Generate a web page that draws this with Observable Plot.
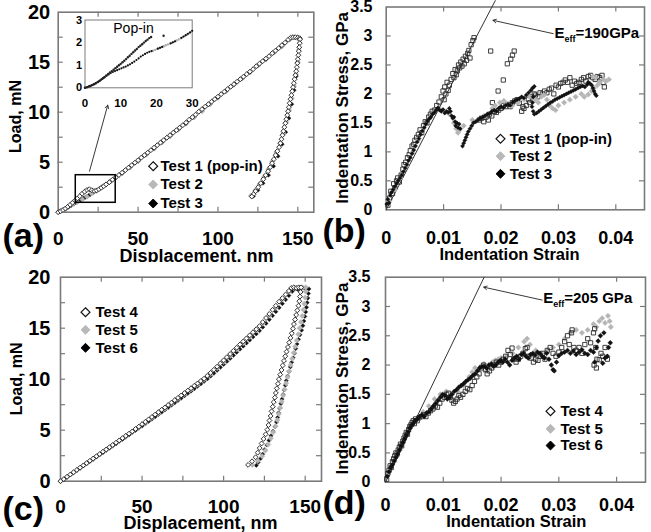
<!DOCTYPE html>
<html>
<head>
<meta charset="utf-8">
<script src="https://cdn.jsdelivr.net/npm/d3@7"></script>
<script src="https://cdn.jsdelivr.net/npm/@observablehq/plot@0.6"></script>
<style>
  html, body { margin: 0; padding: 0; background: #fff; }
  #fig { position: relative; width: 651px; height: 532px; overflow: hidden; background: #fff; }
  .panel { position: absolute; overflow: hidden; }
  .panel svg { overflow: visible; }
</style>
</head>
<body>
<div id="fig"></div>
<script>
// ---------- Load–displacement, first sample set (nm, mN) ----------
const test1LoadingA = [[0,0],[1.5,0.1],[3,0.22],[4.5,0.37],[6,0.55],[7.5,0.74],[9,0.95],[10.5,1.15],[12,1.38],[13.5,1.6],[15,1.85],[16.5,2.05],[18,2.22],[19.5,2.3],[21,2.2],[22.5,2.12],[24,2.18],[25.5,2.3],[27,2.45],[28.5,2.6],[30,2.78],[32,3.0],[34,3.25],[36,3.48],[38,3.72],[40,3.95],[42,4.2],[44,4.45],[46,4.7],[48,4.95],[50,5.2],[52,5.45],[54,5.7],[56,5.95],[58,6.2],[60,6.45],[62,6.7],[64,6.95],[66,7.2],[68,7.45],[70,7.7],[72,7.95],[74,8.2],[76,8.45],[78,8.7],[80,8.95],[82,9.25],[84,9.5],[86,9.75],[88,10.05],[90,10.3],[92,10.55],[94,10.8],[96,11.05],[98,11.3],[100,11.55],[102,11.8],[104,12.05],[106,12.3],[108,12.55],[110,12.8],[112,13.05],[114,13.3],[116,13.55],[118,13.8],[120,14.05],[122,14.3],[124,14.6],[126,14.85],[128,15.1],[130,15.35],[132,15.6],[134,15.9],[136,16.15],[138,16.4],[140,16.7],[142,16.95],[144,17.25],[145.5,17.45],[147,17.5],[148.5,17.5],[150,17.45],[151.2,17.4]];
const test1UnloadingA = [[151.4,17.3],[151.2,16.9],[150.9,16.5],[150.6,16.1],[150.3,15.7],[150,15.3],[149.7,14.9],[149.4,14.5],[149,14.1],[148.5,13.7],[148,13.3],[147.5,12.9],[147,12.5],[146.5,12.1],[146,11.7],[145.4,11.3],[144.9,10.9],[144.4,10.5],[143.9,10.1],[143.4,9.7],[142.8,9.3],[142.2,8.9],[141.6,8.5],[141,8.1],[140.4,7.7],[139.8,7.3],[139.1,6.9],[138.3,6.5],[137.2,6.1],[136.1,5.7],[135,5.3],[133.9,4.9],[132.7,4.5],[131.4,4.1],[129.9,3.7],[128.4,3.3],[126.8,2.9],[125.2,2.5],[123.5,2.1],[122.3,1.8],[121.2,1.57]];
const test2LoadingA = [[0,0],[3,0.2],[6,0.48],[9,0.78],[12,1.02],[15,1.3],[18,1.55],[21,1.85],[24,2.12],[27,2.45],[30,2.78],[33,3.12],[36,3.45],[40,3.9],[45,4.5],[50,5.1],[55,5.75],[60,6.35],[65,7.0],[70,7.6],[75,8.25],[80,8.85],[85,9.5],[90,10.15],[95,10.8],[100,11.45],[105,12.1],[110,12.75],[115,13.35],[120,14.0],[125,14.65],[130,15.3],[135,15.95],[140,16.6],[145,17.3],[148,17.5],[150,17.5]];
const test2UnloadingA = [[151,17.2],[150.6,16.2],[149.8,15],[148.8,13.8],[147.6,12.6],[146.2,11.4],[144.6,10.2],[142.8,9],[141,7.9],[138.9,6.9],[136.5,6],[134,5.1],[131.5,4.3],[128.8,3.5],[126,2.8],[123.3,2.2],[120.6,1.65]];
const test3LoadingA = [[0,0],[1,0.06],[2,0.13],[3,0.21],[4,0.3],[5,0.38],[6,0.47],[7,0.56],[8,0.66],[9,0.76],[10,0.86],[11,0.95],[12,1.04],[13,1.13],[14,1.22],[15,1.31],[16,1.4],[17,1.49],[18,1.58],[19,1.67],[20,1.76],[22,1.95],[24,2.14],[26,2.35],[28,2.57],[30,2.8],[33,3.1],[36,3.42],[40,3.88],[45,4.48],[50,5.08],[55,5.72],[60,6.33],[65,6.97],[70,7.58],[75,8.22],[80,8.83],[85,9.47],[90,10.1],[95,10.77],[100,11.42],[105,12.07],[110,12.72],[115,13.33],[120,13.98],[125,14.63],[130,15.28],[135,15.93],[140,16.58],[145,17.28],[148,17.45],[151,17.4]];
const test3UnloadingA = [[150.8,16.5],[150,15],[149,13.6],[147.7,12.2],[146.2,10.8],[144.4,9.4],[142.4,8],[140.2,6.8],[137.6,5.6],[134.8,4.6],[131.6,3.7],[128.2,2.9],[125,2.2],[122.2,1.6]];

// Magnified start of the first set (nm, mN)
const insetTest1 = [[0,0],[0.5,0.02],[1,0.05],[1.5,0.08],[2,0.12],[2.5,0.16],[3,0.2],[3.5,0.25],[4,0.3],[4.5,0.36],[5,0.42],[5.5,0.48],[6,0.55],[6.5,0.61],[7,0.68],[7.5,0.74],[8,0.8],[8.5,0.87],[9,0.93],[9.5,1.0],[10,1.06],[10.5,1.13],[11,1.2],[11.5,1.27],[12,1.35],[12.5,1.42],[13,1.5],[13.5,1.57],[14,1.65],[14.5,1.72],[15,1.8],[15.5,1.86],[16,1.93],[16.5,2.0],[17,2.07],[17.5,2.13],[18,2.2],[18.5,2.25],[22,2.3]];
const insetTest2 = [[19,1.64],[19.6,1.68],[20.2,1.72],[20.8,1.76],[21.4,1.8],[22,1.84],[22.6,1.88],[23.2,1.92],[23.8,1.96],[24.4,2.0],[25,2.04],[25.6,2.09],[26.2,2.14],[26.8,2.19],[27.4,2.25],[28,2.3],[28.6,2.36],[29.2,2.42],[29.8,2.48]];
const insetTest3 = [[0,0],[0.6,0.03],[1.2,0.07],[1.8,0.11],[2.4,0.15],[3,0.2],[3.6,0.26],[4.2,0.32],[4.8,0.39],[5.4,0.46],[6,0.53],[6.6,0.59],[7.2,0.65],[7.8,0.7],[8.4,0.74],[9,0.78],[9.6,0.82],[10.2,0.86],[10.8,0.9],[11.4,0.94],[12,0.99],[12.6,1.04],[13.2,1.1],[13.8,1.16],[14.4,1.23],[15,1.3],[15.6,1.38],[16.2,1.44],[16.8,1.5],[17.4,1.55],[18,1.59],[18.6,1.62],[20.4,1.73],[21,1.77],[21.6,1.81],[24,1.97],[24.6,2.01],[25.2,2.06],[27,2.21],[27.6,2.27],[28.2,2.33],[28.8,2.39],[29.4,2.45],[30,2.52]];

// ---------- Load–displacement, second sample set (nm, mN) ----------
const test4Loading = [[0,0],[2,0.2],[4,0.43],[6,0.65],[8,0.88],[10,1.1],[12,1.33],[14,1.55],[16,1.77],[18,2.0],[20,2.22],[22,2.44],[24,2.66],[26,2.89],[28,3.11],[30,3.33],[32,3.55],[34,3.77],[36,4.0],[38,4.22],[40,4.44],[42,4.66],[44,4.88],[46,5.12],[48,5.35],[50,5.59],[52,5.82],[54,6.06],[56,6.29],[58,6.53],[60,6.76],[62,7.0],[64,7.23],[66,7.47],[68,7.7],[70,7.94],[72,8.17],[74,8.41],[76,8.64],[78,8.88],[80,9.11],[82,9.35],[84,9.58],[86,9.82],[88,10.05],[90,10.33],[92,10.62],[94,10.92],[96,11.23],[98,11.54],[100,11.85],[102,12.16],[104,12.47],[106,12.78],[108,13.09],[110,13.4],[112,13.7],[114,14.0],[116,14.3],[118,14.6],[120,14.9],[122,15.2],[124,15.6],[126,16.0],[128,16.4],[130,16.8],[132,17.2],[134,17.6],[136,17.95],[138,18.3],[140,18.65],[141.5,18.95],[143,19.0],[144.5,18.95],[146,19.0],[147.5,19.0]];
const test4Unloading = [[147.2,18.55],[146.8,18.1],[146.4,17.65],[145.9,17.2],[145.2,16.75],[144.5,16.3],[143.8,15.85],[143.1,15.4],[142.5,14.95],[141.8,14.5],[141.0,14.05],[140.2,13.6],[139.4,13.15],[138.6,12.7],[137.8,12.25],[137.0,11.8],[136.2,11.35],[135.5,10.9],[134.7,10.45],[133.9,10.0],[133.3,9.55],[132.6,9.1],[132.0,8.65],[131.4,8.2],[130.7,7.75],[130.1,7.3],[129.4,6.85],[128.8,6.4],[128.1,5.95],[127.5,5.5],[126.8,5.05],[125.8,4.6],[124.5,4.15],[123.3,3.7],[122.1,3.25],[120.9,2.8],[119.6,2.35],[117.4,1.95],[115.0,1.6]];
const test5Loading = [[0,0],[4,0.42],[8,0.86],[12,1.3],[16,1.74],[20,2.18],[24,2.62],[28,3.06],[32,3.5],[36,3.94],[40,4.38],[44,4.82],[48,5.27],[52,5.73],[56,6.2],[60,6.66],[64,7.13],[68,7.6],[72,8.07],[76,8.54],[80,9.01],[84,9.48],[88,9.95],[92,10.5],[96,11.1],[100,11.7],[104,12.3],[108,12.92],[112,13.54],[116,14.16],[120,14.78],[124,15.45],[128,16.22],[132,17.0],[136,17.8],[140,18.55],[143,18.95],[146,19.0],[148.5,19.0],[150.3,19.0]];
const test5Unloading = [[150.3,18.6],[150.0,18.0],[149.5,17.4],[148.9,16.8],[148.2,16.2],[147.4,15.6],[146.6,15.0],[145.8,14.4],[144.8,13.8],[143.9,13.2],[143.0,12.6],[142.1,12.0],[141.1,11.4],[140.2,10.8],[139.2,10.2],[138.3,9.6],[137.4,9.0],[136.5,8.4],[135.6,7.8],[134.7,7.2],[133.8,6.6],[132.9,6.0],[131.8,5.4],[130.4,4.8],[128.9,4.2],[127.3,3.6],[125.6,3.0],[123.6,2.45],[121,2.0],[117.6,1.6]];
const test6Loading = [[0,0],[2,0.18],[4,0.4],[6,0.62],[8,0.84],[10,1.06],[12,1.28],[14,1.5],[16,1.72],[18,1.94],[20,2.15],[22,2.37],[24,2.58],[26,2.8],[28,3.02],[30,3.23],[32,3.45],[34,3.66],[36,3.88],[38,4.1],[40,4.31],[42,4.53],[44,4.75],[46,4.97],[48,5.19],[50,5.41],[52,5.63],[54,5.86],[56,6.08],[58,6.31],[60,6.53],[62,6.76],[64,6.99],[66,7.22],[68,7.45],[70,7.68],[72,7.91],[74,8.14],[76,8.37],[78,8.6],[80,8.83],[82,9.06],[84,9.3],[86,9.54],[88,9.78],[90,10.03],[92,10.3],[94,10.58],[96,10.87],[98,11.16],[100,11.45],[102,11.74],[104,12.04],[106,12.34],[108,12.64],[110,12.94],[112,13.24],[114,13.54],[116,13.84],[118,14.14],[120,14.44],[122,14.75],[124,15.1],[126,15.47],[128,15.85],[130,16.23],[132,16.62],[134,17.01],[136,17.4],[138,17.8],[140,18.2],[142,18.6],[143.5,18.85],[145.5,18.8],[147.5,18.85],[149.5,18.9],[151,18.9],[152.3,18.85]];
const test6Unloading = [[152.0,18.4],[151.6,17.95],[151.2,17.5],[150.8,17.05],[150.3,16.6],[149.8,16.15],[149.2,15.7],[148.6,15.25],[147.8,14.8],[146.8,14.35],[145.9,13.9],[145.0,13.45],[144.2,13.0],[143.4,12.55],[142.6,12.1],[141.7,11.65],[140.9,11.2],[140.1,10.75],[139.2,10.3],[138.4,9.85],[137.8,9.4],[137.1,8.95],[136.5,8.5],[135.8,8.05],[135.1,7.6],[134.4,7.15],[133.7,6.7],[133.1,6.25],[132.4,5.8],[131.6,5.35],[130.3,4.9],[129.0,4.45],[127.8,4.0],[126.5,3.55],[125.2,3.1],[123.9,2.65],[122.6,2.2],[121.2,1.85],[120.0,1.55]];

// ---------- Indentation stress–strain, first set (strain, GPa) ----------
const test1StressB = [[0.0003,0.08],[0.0006,0.2],[0.0008,0.32],[0.0011,0.28],[0.0013,0.45],[0.0015,0.38],[0.0018,0.5],[0.002,0.55],[0.0023,0.48],[0.0026,0.6],[0.0029,0.7],[0.0031,0.78],[0.0034,0.82],[0.0037,0.9],[0.004,0.95],[0.0042,1.02],[0.0045,1.1],[0.0048,1.13],[0.005,1.2],[0.0053,1.25],[0.0056,1.3],[0.0059,1.38],[0.0062,1.33],[0.0065,1.45],[0.0068,1.52],[0.0071,1.5],[0.0074,1.6],[0.0077,1.65],[0.008,1.7],[0.0084,1.72],[0.0088,1.8],[0.0092,1.86],[0.0096,1.95],[0.0099,2.05],[0.0101,1.9],[0.0102,2.12],[0.0104,2.0],[0.0106,2.2],[0.0108,2.06],[0.011,2.15],[0.0113,2.25],[0.0116,2.35],[0.0118,2.28],[0.012,2.42],[0.0122,2.33],[0.0124,2.4],[0.0126,2.5],[0.0128,2.45],[0.013,2.55],[0.0132,2.48],[0.0134,2.6],[0.0136,2.52],[0.0138,2.65],[0.014,2.58],[0.0142,2.7],[0.0144,2.75],[0.0146,2.62],[0.0148,2.85],[0.0151,2.92],[0.0153,2.97],
  [0.0182,2.74],[0.0185,1.85],[0.0195,2.05],[0.0204,2.24],[0.0211,2.52],[0.0217,2.6],[0.022,2.67],[0.0223,2.74],
  [0.0162,1.55],[0.0166,1.58],[0.017,1.52],[0.0174,1.6],[0.0178,1.55],[0.018,1.65],[0.0184,1.62],[0.0188,1.7],[0.0192,1.68],[0.0196,1.72],[0.02,1.75],[0.0204,1.8],[0.0208,1.78],[0.0212,1.82],[0.0216,1.78],[0.022,1.85],[0.0224,1.88],[0.0228,1.9],[0.0232,1.84],[0.0236,1.7],[0.0238,1.78],[0.024,1.75],[0.0244,1.8],[0.0248,1.9],[0.025,1.85],[0.0254,1.95],[0.0258,2.0],[0.026,1.98],[0.0264,1.95],[0.0268,2.02],[0.0272,2.0],[0.0276,2.05],[0.028,2.02],[0.0284,2.08],[0.0288,2.1],[0.0292,2.0],[0.0296,2.15],[0.03,2.12],[0.0304,2.18],[0.0308,2.2],[0.0312,2.24],[0.0316,2.2],[0.032,2.28],[0.0324,2.15],[0.0328,2.22],[0.0332,2.18],[0.0336,2.2],[0.034,2.25],[0.0344,2.28],[0.0348,2.22],[0.0352,2.3],[0.0356,2.32],[0.036,2.28],[0.0364,2.25],[0.0368,2.3],[0.0372,2.28],[0.0376,2.32],[0.0378,2.2],[0.038,2.12]];
const test2StressB = [[0.0005,0.15],[0.0015,0.35],[0.0025,0.55],[0.0035,0.75],[0.0045,0.98],[0.0055,1.2],[0.0065,1.4],[0.0075,1.58],[0.0085,1.7],[0.0095,1.72],[0.011,1.65],[0.0118,1.5],[0.0122,1.4],[0.0125,1.33],[0.0128,1.38],[0.0135,1.45],[0.015,1.55],[0.017,1.62],[0.0185,1.75],[0.019,1.8],[0.0198,1.85],[0.0205,1.88],[0.021,1.82],[0.022,1.8],[0.023,1.85],[0.024,1.9],[0.025,1.95],[0.026,1.9],[0.0265,1.85],[0.027,1.95],[0.0275,1.98],[0.028,1.9],[0.0285,1.8],[0.029,1.75],[0.0295,1.72],[0.03,1.8],[0.031,1.85],[0.032,1.9],[0.033,1.95],[0.034,2.0],[0.0345,1.95],[0.0352,1.99],[0.0358,2.05],[0.0362,2.1],[0.0368,2.15],[0.0372,2.2],[0.0378,2.25],[0.0383,2.22],[0.0388,2.25],[0.0365,2.28],[0.036,2.3]];
const test3StressB = [[0.0001,0.1],[0.0003,0.18],[0.0005,0.12],[0.0007,0.25],[0.0009,0.3],[0.0012,0.35],[0.0015,0.4],[0.0018,0.45],[0.0021,0.5],[0.0024,0.55],[0.0027,0.6],[0.003,0.66],[0.0033,0.72],[0.0036,0.78],[0.0039,0.85],[0.0042,0.9],[0.0045,0.97],[0.0048,1.03],[0.0051,1.1],[0.0054,1.17],[0.0057,1.23],[0.006,1.3],[0.0063,1.36],[0.0066,1.42],[0.0069,1.48],[0.0072,1.53],[0.0075,1.57],[0.0078,1.6],[0.0081,1.65],[0.0084,1.68],[0.0087,1.72],[0.009,1.76],
  [0.0093,1.72],[0.0096,1.7],[0.0099,1.73],[0.0102,1.67],[0.0105,1.7],[0.0108,1.68],[0.011,1.75],[0.0112,1.7],[0.0114,1.62],[0.0116,1.58],[0.0118,1.6],[0.012,1.52],[0.0121,1.45],[0.0123,1.5],[0.0125,1.42],[0.0127,1.48],[0.0129,1.4],
  [0.0133,1.1],[0.0135,1.15],[0.0137,1.2],[0.0139,1.25],[0.0141,1.3],[0.0143,1.35],[0.0146,1.4],[0.0149,1.45],[0.0152,1.5],[0.0156,1.52],[0.016,1.55],[0.0164,1.58],[0.0168,1.6],[0.0172,1.62],[0.0176,1.65],[0.018,1.66],[0.0184,1.7],[0.0188,1.72],[0.0192,1.7],[0.0196,1.75],[0.02,1.78],[0.0204,1.76],[0.0208,1.8],[0.0212,1.82],[0.0216,1.8],[0.022,1.85],[0.0224,1.88],[0.0228,1.9],[0.0232,1.92],[0.0236,1.95],[0.024,1.93],[0.0244,1.98],[0.0248,2.02],[0.0252,2.06],[0.0255,2.1],[0.0258,2.13],
  [0.0256,1.95],[0.0255,1.85],[0.0254,1.78],[0.0256,1.7],[0.0258,1.65],
  [0.0262,1.67],[0.0266,1.7],[0.027,1.73],[0.0274,1.76],[0.0278,1.79],[0.0282,1.82],[0.0286,1.85],[0.029,1.87],[0.0294,1.9],[0.0298,1.92],[0.0302,1.94],[0.0306,1.96],[0.031,1.98],[0.0314,2.0],[0.0318,2.02],[0.0322,2.04],[0.0326,2.06],[0.033,2.08],[0.0334,2.1],[0.0338,2.12],[0.0342,2.14],[0.0346,2.12],[0.035,2.16],[0.0352,2.2],[0.0355,2.18],[0.0358,2.15],[0.036,2.1],[0.0362,2.05],[0.0364,2.0],[0.0366,1.97]];

// ---------- Indentation stress–strain, second set (strain, GPa) ----------
const test4Stress = [[0.0002,0.05],[0.0004,0.15],[0.0006,0.2],[0.0008,0.28],[0.001,0.25],[0.0012,0.35],[0.0014,0.4],[0.0016,0.45],[0.0018,0.5],[0.002,0.48],[0.0022,0.55],[0.0024,0.6],[0.0026,0.65],[0.0028,0.62],[0.003,0.7],[0.0032,0.75],[0.0034,0.8],[0.0036,0.85],[0.0038,0.82],[0.004,0.9],[0.0042,0.95],[0.0044,0.98],[0.0046,1.02],[0.0048,1.05],[0.005,1.0],[0.0052,1.08],[0.0055,1.05],[0.0058,1.1],[0.0062,1.12],[0.0066,1.15],[0.007,1.12],[0.0074,1.18],[0.0078,1.22],[0.0082,1.25],[0.0086,1.3],[0.009,1.28],[0.0094,1.35],[0.0098,1.42],[0.0102,1.45],[0.0106,1.5],[0.0109,1.52],[0.0112,1.45],[0.0115,1.4],[0.0118,1.35],[0.0121,1.38],[0.0124,1.42],[0.0127,1.48],[0.013,1.45],[0.0134,1.5],[0.0138,1.55],[0.0142,1.6],[0.0146,1.58],[0.015,1.65],[0.0154,1.72],[0.0158,1.8],[0.0162,1.85],[0.0166,1.95],[0.017,2.0],[0.0173,1.92],[0.0176,1.85],[0.018,1.9],[0.0184,1.95],[0.0188,2.0],[0.0192,2.05],[0.0196,2.0],[0.02,2.05],[0.0204,2.1],[0.0208,2.15],[0.0212,2.25],[0.0216,2.18],[0.0219,2.29],[0.0222,2.1],[0.0226,2.05],[0.023,2.1],[0.0234,2.15],[0.0238,2.2],[0.0242,2.28],[0.0245,2.3],[0.0248,2.15],[0.0252,2.12],[0.0256,2.05],[0.026,2.1],[0.0264,2.08],[0.0268,2.15],[0.0272,2.2],[0.0276,2.1],[0.028,2.25],[0.0285,2.3],[0.029,2.2],[0.0295,2.15],[0.03,2.22],[0.0305,2.3],[0.031,2.4],[0.0315,2.5],[0.0318,2.35],[0.0322,2.55],[0.0323,2.6],[0.0326,2.3],[0.033,2.25],[0.0335,2.3],[0.034,2.2],[0.0345,2.35],[0.035,2.45],[0.0355,2.38],[0.036,2.55],[0.0362,2.62],[0.0364,2.3],[0.0366,2.1],[0.0361,2.0],[0.0365,1.95],[0.037,2.09],[0.0373,2.2],[0.0376,2.15],[0.038,2.3],[0.0384,2.1]];
const test5Stress = [[0.0005,0.15],[0.0015,0.35],[0.0025,0.55],[0.0035,0.78],[0.0045,0.95],[0.0055,1.08],[0.0065,1.2],[0.0075,1.3],[0.0085,1.42],[0.0095,1.5],[0.0105,1.55],[0.0115,1.5],[0.0125,1.55],[0.0135,1.65],[0.0145,1.8],[0.015,1.88],[0.0155,1.95],[0.016,1.92],[0.0165,1.98],[0.017,2.02],[0.0175,1.9],[0.018,1.95],[0.0185,2.05],[0.019,2.08],[0.0195,2.1],[0.02,2.12],[0.021,2.15],[0.022,2.2],[0.023,2.3],[0.024,2.4],[0.0245,2.45],[0.025,2.35],[0.026,2.25],[0.027,2.2],[0.028,2.25],[0.029,2.3],[0.03,2.35],[0.031,2.45],[0.032,2.55],[0.033,2.6],[0.034,2.55],[0.035,2.6],[0.036,2.7],[0.0365,2.65],[0.037,2.75],[0.0375,2.8],[0.038,2.72],[0.0385,2.84],[0.039,2.65],[0.0388,2.75]];
const test6Stress = [[0.0003,0.1],[0.0006,0.18],[0.0009,0.25],[0.0012,0.3],[0.0015,0.36],[0.0018,0.42],[0.0021,0.48],[0.0024,0.55],[0.0027,0.62],[0.003,0.68],[0.0033,0.74],[0.0036,0.8],[0.0039,0.86],[0.0042,0.92],[0.0045,0.97],[0.0048,1.0],[0.0051,1.05],[0.0055,1.08],[0.0059,1.12],[0.0063,1.15],[0.0067,1.12],[0.0071,1.18],[0.0075,1.2],[0.0079,1.25],[0.0083,1.3],[0.0087,1.35],[0.0091,1.4],[0.0095,1.45],[0.0099,1.5],[0.0103,1.48],[0.0107,1.42],[0.0111,1.45],[0.0115,1.5],[0.0119,1.55],[0.0123,1.58],[0.0127,1.62],[0.0131,1.65],[0.0135,1.68],[0.0139,1.72],[0.0143,1.75],[0.0147,1.78],[0.0151,1.82],[0.0155,1.85],[0.0159,1.9],[0.0163,1.95],[0.0167,1.97],[0.0171,1.98],[0.0175,1.95],[0.0179,2.0],[0.0183,2.02],[0.0187,1.98],[0.0191,2.0],[0.0195,2.05],[0.0199,2.08],[0.0203,2.05],[0.0207,2.1],[0.0211,2.05],[0.0215,2.0],[0.0219,2.08],[0.0223,2.12],[0.0227,2.15],[0.0231,2.1],[0.0235,2.18],[0.0239,2.2],[0.0243,2.15],[0.0247,2.12],[0.0251,2.18],[0.0255,2.2],[0.0259,2.17],[0.0263,2.22],[0.0267,2.2],[0.0271,2.15],[0.0275,2.12],[0.0279,2.2],[0.0283,2.1],[0.0287,2.0],[0.029,1.92],[0.0292,1.9],[0.0296,2.05],[0.03,2.16],[0.0305,2.2],[0.031,2.22],[0.0315,2.25],[0.032,2.2],[0.0325,2.24],[0.033,2.18],[0.0335,2.22],[0.034,2.26],[0.0345,2.2],[0.035,2.18],[0.0355,2.25],[0.036,2.22],[0.0365,2.3],[0.0368,2.41],[0.0372,2.5],[0.0378,2.55],[0.0376,2.03],[0.038,2.12],[0.0384,2.15],[0.0389,2.38],[0.0386,2.3],[0.0362,2.05]];

// Effective moduli (GPa) for the elastic reference lines
const modulusB = 190;
const modulusD = 205;

// Axis ticks and legend entries
const dispTicks = [0, 50, 100, 150];
const dispMinor = [25, 50, 75, 100, 125, 150];
const loadTicks = [0, 5, 10, 15, 20];
const loadMinor = [2.5, 5, 7.5, 10, 12.5, 15, 17.5];
const strainTicks = [0, 0.01, 0.02, 0.03, 0.04];
const strainMinor = [0.01, 0.02, 0.03, 0.04];
const stressTicks = [0, 0.5, 1, 1.5, 2, 2.5, 3, 3.5];
const stressMinor = [0.5, 1, 1.5, 2, 2.5, 3];
const insetXTicks = [0, 10, 20, 30];
const insetYTicks = [0, 1, 2, 3];
const legendFirst = ["Test 1 (pop-in)", "Test 2", "Test 3"];
const legendSecond = ["Test 4", "Test 5", "Test 6"];

// Annotation anchors in data units
const zoomBox = [{x1: 11, x2: 36, y1: 0.94, y2: 3.7}];
const zoomArrow = [[19.6, 4.1, 31, 10.7]];
const arrowB = [[0.0291, 3.04, 0.0186, 3.27]];
const arrowD = [[0.0271, 3.11, 0.0170, 3.33]];
const labelB = [[0.0293, 2.96]];
const labelD = [[0.0273, 3.06]];

// ---------- drawing ----------
const fig = document.getElementById("fig");
const FONT = "'Liberation Sans', Arial, Helvetica, sans-serif";
const GRAY = "#7a7a7a";
const xy = {x: d => d[0], y: d => d[1]};

const openDiamond = {symbol: "diamond2", r: 2.2, stroke: "#1c1c1c", strokeWidth: 0.9, fill: "#fff"};
const grayDiamond = {symbol: "diamond2", r: 2.4, fill: "#b5b5b5", stroke: "#b5b5b5", strokeWidth: 0.5};
const blackDiamond = {symbol: "diamond2", r: 1.9, fill: "#111", stroke: "#111", strokeWidth: 0.4};
const blackDiamondD = {symbol: "diamond2", r: 2.2, fill: "#111", stroke: "#111", strokeWidth: 0.4};
const openSquare = {symbol: "square2", r: 2.7, stroke: "#2a2a2a", strokeWidth: 0.9, fill: "none"};

const legendSymbols = [
  {fill: "#fff", stroke: "#111", strokeWidth: 1.2},
  {fill: "#b8b8b8", stroke: "#b8b8b8", strokeWidth: 1},
  {fill: "#000", stroke: "#000", strokeWidth: 1}
];

function addPanel({left, top, width, height, margins, xDomain, yDomain, xMinor, yMinor, frameWidth = 1.6, marks}) {
  const [mt, mr, mb, ml] = margins;
  const innerW = width - ml - mr, innerH = height - mt - mb;
  const tl = 5;
  const svg = Plot.plot({
    width, height, marginTop: mt, marginRight: mr, marginBottom: mb, marginLeft: ml,
    x: {domain: xDomain, axis: null},
    y: {domain: yDomain, axis: null},
    style: {fontFamily: FONT, background: "transparent", overflow: "visible", color: "#000"},
    marks: [
      Plot.tickX(xMinor, {x: d => d, insetTop: innerH - tl, stroke: GRAY, strokeWidth: 1.2}),
      Plot.tickX(xMinor, {x: d => d, insetBottom: innerH - tl, stroke: GRAY, strokeWidth: 1.2}),
      Plot.tickY(yMinor, {y: d => d, insetRight: innerW - tl, stroke: GRAY, strokeWidth: 1.2}),
      Plot.tickY(yMinor, {y: d => d, insetLeft: innerW - tl, stroke: GRAY, strokeWidth: 1.2}),
      Plot.frame({stroke: GRAY, strokeWidth: frameWidth}),
      ...marks
    ]
  });
  const div = document.createElement("div");
  div.className = "panel";
  Object.assign(div.style, {left: left + "px", top: top + "px", width: width + "px", height: height + "px"});
  div.appendChild(svg);
  fig.appendChild(div);
  return svg;
}

const fmt = d => String(d);
function xLabels(values, dy, fontSize) {
  return Plot.text(values, {x: d => d, frameAnchor: "bottom", dy, text: fmt, fontSize, fontWeight: "bold", textAnchor: "middle", lineAnchor: "middle", fill: "#000"});
}
function yLabels(values, dx, fontSize) {
  return Plot.text(values, {y: d => d, frameAnchor: "left", dx, text: fmt, textAnchor: "end", fontSize, fontWeight: "bold", lineAnchor: "middle", fill: "#000"});
}
function note(str, frameAnchor, dx, dy, opts = {}) {
  return Plot.text([str], {frameAnchor, dx, dy, text: d => d, fontWeight: "bold", fill: "#000", textAnchor: "middle", ...opts});
}
function legend(labels, symbolDx, textDx, rowsDy) {
  return labels.flatMap((label, i) => [
    Plot.dot([label], {frameAnchor: "top-left", dx: symbolDx, dy: rowsDy[i], symbol: "diamond2", r: 4, ...legendSymbols[i]}),
    Plot.text([label], {frameAnchor: "top-left", dx: textDx, dy: rowsDy[i], text: d => d, textAnchor: "start", lineAnchor: "middle", fontSize: 15, fontWeight: "bold", fill: "#000"})
  ]);
}
function modulusLine(E, topStress) {
  return Plot.line([[0, 0], [topStress / E, topStress]], {...xy, stroke: "#333", strokeWidth: 1});
}
function subscriptEff(svg) {
  const ns = "http://www.w3.org/2000/svg";
  for (const t of svg.querySelectorAll("text")) {
    const s = t.textContent;
    if (s.startsWith("E=")) {
      t.textContent = "";
      const a = document.createElementNS(ns, "tspan"); a.textContent = "E";
      const b = document.createElementNS(ns, "tspan"); b.textContent = "eff";
      b.setAttribute("font-size", "9"); b.setAttribute("dy", "4");
      const c = document.createElementNS(ns, "tspan"); c.textContent = s.slice(1);
      c.setAttribute("dy", "-4");
      t.append(a, b, c);
    }
  }
}

// (a) load–displacement, first set
addPanel({
  left: 0, top: 0, width: 325, height: 262, margins: [11.7, 11.7, 50.3, 57.7],
  xDomain: [0, 160], yDomain: [0, 20], xMinor: dispMinor, yMinor: loadMinor,
  marks: [
    Plot.dot(test3LoadingA.concat(test3UnloadingA), {...xy, ...blackDiamond}),
    Plot.dot(test2LoadingA.concat(test2UnloadingA), {...xy, ...grayDiamond}),
    Plot.dot(test1LoadingA.concat(test1UnloadingA), {...xy, ...openDiamond}),
    Plot.rect(zoomBox, {x1: "x1", x2: "x2", y1: "y1", y2: "y2", stroke: "#000", strokeWidth: 1.5, fill: "none"}),
    Plot.arrow(zoomArrow, {x1: d => d[0], y1: d => d[1], x2: d => d[2], y2: d => d[3], stroke: "#222", strokeWidth: 0.9, headLength: 6}),
    xLabels(dispTicks, 26.3, 19),
    yLabels(loadTicks, -8, 20),
    note("Displacement, nm", "bottom", 10.5, 49.8, {fontSize: 18, lineAnchor: "bottom"}),
    note("Load, mN", "left", -42.7, 4.3, {fontSize: 16, rotate: -90, lineAnchor: "middle"}),
    note("(a)", "bottom-left", -55.7, 34.3, {fontSize: 34, textAnchor: "start", lineAnchor: "bottom"}),
    ...legend(legendFirst, 95, 102.3, [154, 172.3, 191.3])
  ]
});

// magnified start of (a)
addPanel({
  left: 62, top: 12, width: 142, height: 100, margins: [7.5, 12.3, 24.7, 22.5],
  xDomain: [0, 30], yDomain: [0, 3], xMinor: [], yMinor: [], frameWidth: 1,
  marks: [
    Plot.dot(insetTest2, {...xy, r: 1.2, fill: "#aaa"}),
    Plot.dot(insetTest3, {...xy, r: 1.1, fill: "#111"}),
    Plot.dot(insetTest1, {...xy, r: 1.2, fill: "#222"}),
    xLabels(insetXTicks, 16, 11.5),
    yLabels(insetYTicks, -3, 11),
    note("Pop-in", "top-left", 48.5, 8.5, {fontSize: 14, fontWeight: "normal", textAnchor: "middle", lineAnchor: "middle"})
  ]
});

// (b) stress–strain, first set
const svgB = addPanel({
  left: 317, top: 0, width: 334, height: 262, margins: [6.5, 7, 52.7, 68.7],
  xDomain: [0, 0.045], yDomain: [0, 3.5], xMinor: strainMinor, yMinor: stressMinor,
  marks: [
    modulusLine(modulusB, 3.61),
    Plot.dot(test1StressB, {...xy, ...openSquare}),
    Plot.dot(test2StressB, {...xy, ...grayDiamond}),
    Plot.dot(test3StressB, {...xy, ...blackDiamond}),
    Plot.arrow(arrowB, {x1: d => d[0], y1: d => d[1], x2: d => d[2], y2: d => d[3], stroke: "#222", strokeWidth: 0.9, headLength: 6}),
    Plot.text(labelB, {...xy, text: () => `E=${modulusB}GPa`, textAnchor: "start", lineAnchor: "bottom", fontSize: 15, fontWeight: "bold", fill: "#000"}),
    xLabels(strainTicks, 28.7, 18),
    yLabels(stressTicks, -13.7, 16),
    note("Indentation Strain", "bottom", -5.8, 49.7, {fontSize: 16.5, lineAnchor: "bottom"}),
    note("Indentation Stress, GPa", "left", -44, -0.5, {fontSize: 17, rotate: -90, lineAnchor: "middle"}),
    note("(b)", "bottom-left", -63.7, 31.7, {fontSize: 34, textAnchor: "start", lineAnchor: "bottom"}),
    ...legend(legendFirst, 114.3, 123.6, [131.8, 149.2, 166.8])
  ]
});
subscriptEff(svgB);

// (c) load–displacement, second set
addPanel({
  left: 0, top: 262, width: 325, height: 270, margins: [14.7, 4, 51.3, 60],
  xDomain: [0, 160], yDomain: [0, 20], xMinor: dispMinor, yMinor: loadMinor,
  marks: [
    Plot.dot(test6Loading.concat(test6Unloading), {...xy, ...blackDiamond}),
    Plot.dot(test5Loading.concat(test5Unloading), {...xy, ...grayDiamond}),
    Plot.dot(test4Loading.concat(test4Unloading), {...xy, ...openDiamond}),
    xLabels(dispTicks, 26, 19),
    yLabels(loadTicks, -10, 20),
    note("Displacement, nm", "bottom", 9.5, 47.8, {fontSize: 18, lineAnchor: "bottom"}),
    note("Load, mN", "left", -44, -0.4, {fontSize: 16, rotate: -90, lineAnchor: "middle"}),
    note("(c)", "bottom-left", -58, 38.9, {fontSize: 34, textAnchor: "start", lineAnchor: "bottom"}),
    ...legend(legendSecond, 25, 35, [35, 52.6, 70.6])
  ]
});

// (d) stress–strain, second set
const svgD = addPanel({
  left: 317, top: 262, width: 334, height: 270, margins: [14.7, 6, 50.3, 68],
  xDomain: [0, 0.045], yDomain: [0, 3.5], xMinor: strainMinor, yMinor: stressMinor,
  marks: [
    modulusLine(modulusD, 3.5),
    Plot.dot(test5Stress, {...xy, ...grayDiamond}),
    Plot.dot(test4Stress, {...xy, ...openSquare}),
    Plot.dot(test6Stress, {...xy, ...blackDiamondD}),
    Plot.arrow(arrowD, {x1: d => d[0], y1: d => d[1], x2: d => d[2], y2: d => d[3], stroke: "#222", strokeWidth: 0.9, headLength: 6}),
    Plot.text(labelD, {...xy, text: () => `E=${modulusD} GPa`, textAnchor: "start", lineAnchor: "bottom", fontSize: 15, fontWeight: "bold", fill: "#000"}),
    xLabels(strainTicks, 23.3, 18),
    yLabels(stressTicks, -15, 16),
    note("Indentation Strain", "bottom", 0.8, 44.3, {fontSize: 16.5, lineAnchor: "bottom"}),
    note("Indentation Stress, GPa", "left", -43.3, -1.2, {fontSize: 17, rotate: -90, lineAnchor: "middle"}),
    note("(d)", "bottom-left", -63, 31.3, {fontSize: 34, textAnchor: "start", lineAnchor: "bottom"}),
    ...legend(legendSecond, 165, 175, [134, 151.6, 168.3])
  ]
});
subscriptEff(svgD);
</script>
</body>
</html>
